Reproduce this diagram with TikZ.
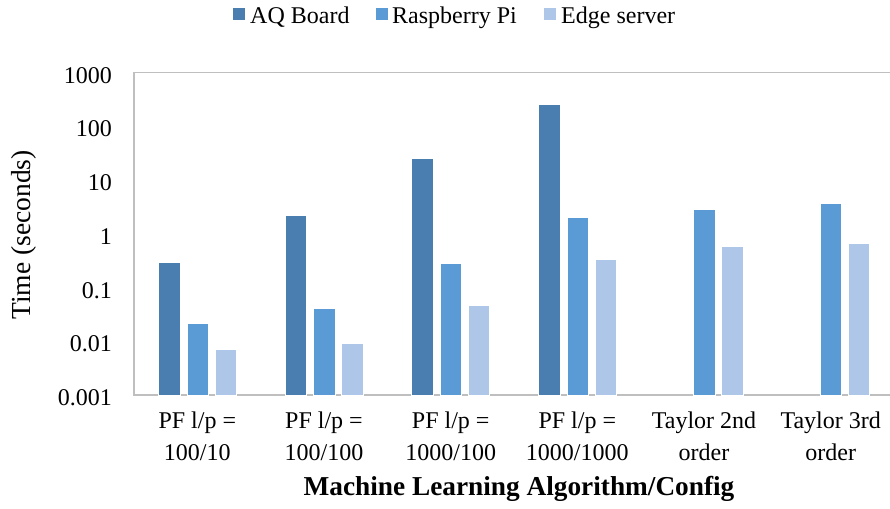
\documentclass[tikz,border=0pt]{standalone}
\usepackage{fontspec}
\setmainfont{Liberation Serif}
\definecolor{aqc}{RGB}{74,126,177}
\definecolor{rpic}{RGB}{91,155,213}
\definecolor{edgec}{RGB}{174,198,231}
\definecolor{axisc}{RGB}{191,191,191}
\begin{document}
\begin{tikzpicture}[x=1pt,y=-1pt,
  ticklab/.style={anchor=base east,inner sep=0,font=\fontsize{24}{24}\selectfont},
  catlab/.style={anchor=north,inner sep=0,align=center,font=\fontsize{24}{32}\selectfont},
  legtext/.style={anchor=base west,inner sep=0,font=\fontsize{24}{24}\selectfont},
  axtitle/.style={inner sep=0},
  axisline/.style={draw=axisc,line width=1.6},
  bar/.style={draw=white,line width=0.4}]
\useasboundingbox (0,0) rectangle (890,508);
% plot frame
\draw[axisline] (890,72.7) -- (134,72.7) -- (134,395) -- (890,395);
% tick labels
\foreach \k/\lab in {0/0.001,1/0.01,2/0.1,3/1,4/10,5/100,6/1000}
  \node[ticklab] (tick\k) at (112,{395-\k*53.72+10.5}) {\lab};
% bars
\foreach \i/\t in {1/262.3,2/215,3/158.3,4/104}
  \filldraw[bar,fill=aqc] ({134+(\i-1)*126.67+24.3},395) rectangle ({134+(\i-1)*126.67+46},\t);
\foreach \i/\t in {1/322.7,2/308.3,3/262.7,4/216.7,5/209.3,6/202.7}
  \filldraw[bar,fill=rpic] ({134+(\i-1)*126.67+52.7},395) rectangle ({134+(\i-1)*126.67+74.3},\t);
\foreach \i/\t in {1/349.3,2/343.3,3/305,4/259,5/246,6/243.3}
  \filldraw[bar,fill=edgec] ({134+(\i-1)*126.67+80.7},395) rectangle ({134+(\i-1)*126.67+102.3},\t);
% category labels
\node[catlab] (c1) at (197.3,411.6) {PF l/p =\\100/10};
\node[catlab] (c2) at (324.0,411.6) {PF l/p =\\100/100};
\node[catlab] (c3) at (450.7,411.6) {PF l/p =\\1000/100};
\node[catlab] (c4) at (577.3,411.6) {PF l/p =\\1000/1000};
\node[catlab] (c5) at (704.0,411.6) {Taylor 2nd\\order};
\node[catlab] (c6) at (830.7,411.6) {Taylor 3rd\\order};
% axis titles
\node[axtitle,anchor=base,font=\fontsize{27.3}{27.3}\selectfont\bfseries] (xt) at (519,495) {Machine Learning Algorithm/Config};
\node[axtitle,rotate=90,font=\fontsize{27.5}{27.5}\selectfont] (yt) at (24,235) {Time (seconds)};
% legend
\fill[aqc] (233,8.3) rectangle (245,20.3);
\node[legtext] (l1) at (250,23.5) {AQ Board};
\fill[rpic] (376,8.3) rectangle (388,20.3);
\node[legtext] (l2) at (392,23.5) {Raspberry Pi};
\fill[edgec] (544,8.3) rectangle (556,20.3);
\node[legtext] (l3) at (561,23.5) {Edge server};
\end{tikzpicture}
\end{document}
